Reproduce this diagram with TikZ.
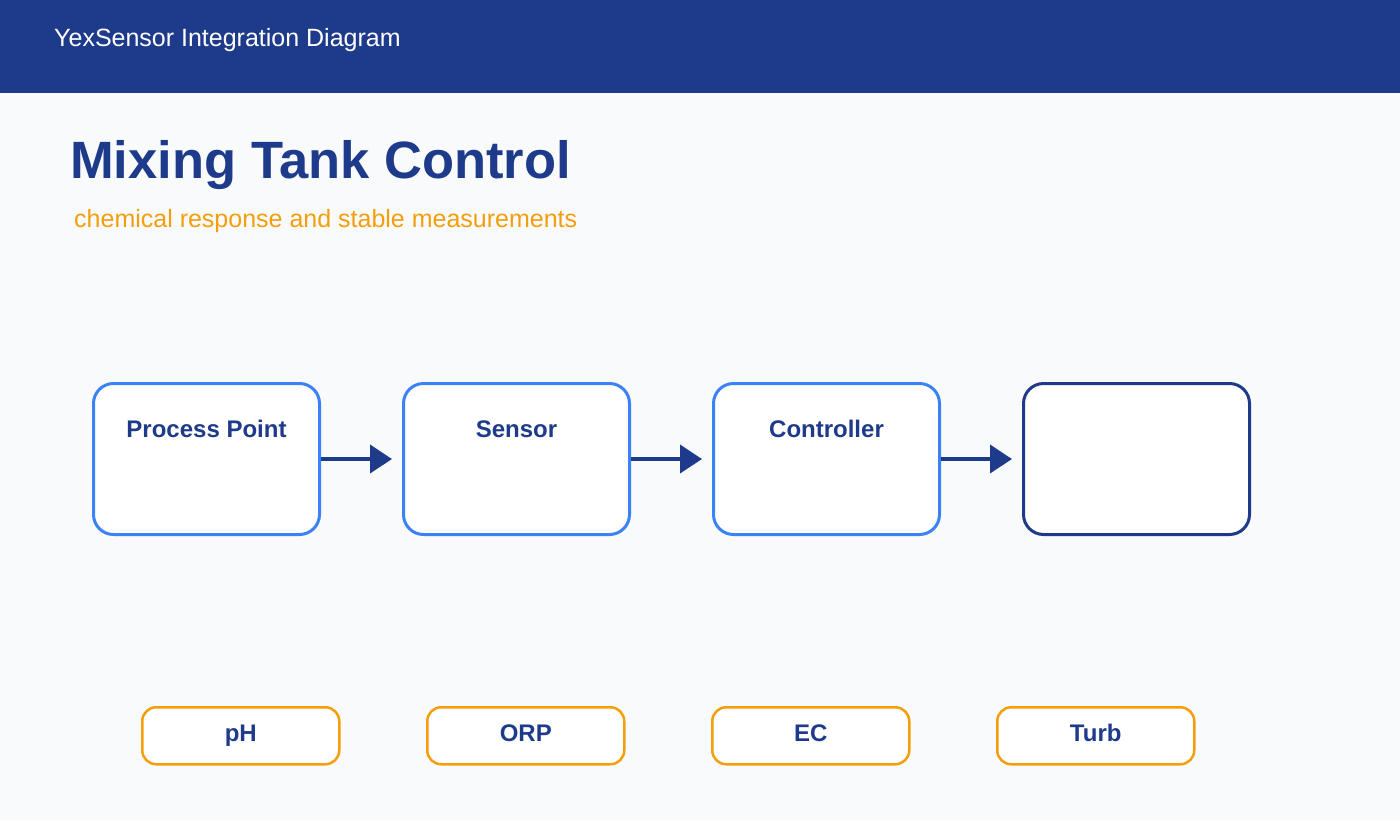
\documentclass[tikz,border=0pt]{standalone}
\usepackage{fontspec}
\setmainfont{Liberation Sans}
\usetikzlibrary{arrows.meta}
\definecolor{navy}{HTML}{1E3A8A}
\definecolor{bluec}{HTML}{3B82F6}
\definecolor{orng}{HTML}{F59E0B}
\definecolor{bg}{HTML}{F8FAFC}
\begin{document}
\begin{tikzpicture}[x=1pt,y=-1pt,
  box/.style={draw=bluec,line width=3pt,fill=white,rounded corners=20pt,minimum width=226pt,minimum height=151pt,anchor=north west},
  lbl/.style={font=\fontsize{24}{28}\selectfont\bfseries,text=navy},
  tag/.style={draw=orng,line width=2.5pt,fill=white,rounded corners=14pt,minimum width=197pt,minimum height=57pt,anchor=north west,font=\fontsize{24}{28}\selectfont\bfseries,text=navy,text height=17pt,text depth=5pt},
  arr/.style={navy,line width=4pt,-{Triangle[length=22pt,width=28pt]}}]
\useasboundingbox (0,0) rectangle (1400,820);
\fill[bg] (0,0) rectangle (1400,820);
\fill[navy] (0,0) rectangle (1400,93);
\node[anchor=west,text=white,font=\fontsize{25}{29}\selectfont,inner sep=0] (hdr) at (54,40) {YexSensor Integration Diagram};
\node[anchor=base west,text=navy,font=\fontsize{52.5}{60}\selectfont\bfseries,inner sep=0] (title) at (70,178) {Mixing Tank Control};
\node[anchor=base west,text=orng,font=\fontsize{25}{29}\selectfont,inner sep=0] (sub) at (74,227) {chemical response and stable measurements};
\node[box] (b1) at (92,382) {};
\node[box] (b2) at (402,382) {};
\node[box] (b3) at (712,382) {};
\node[box,draw=navy] (b4) at (1022,382) {};
\node[lbl] at ([yshift=-47pt]b1.north) {Process Point};
\node[lbl] at ([yshift=-47pt]b2.north) {Sensor};
\node[lbl] at ([yshift=-47pt]b3.north) {Controller};
\draw[arr] (b1.east) -- ([xshift=-10pt]b2.west);
\draw[arr] (b2.east) -- ([xshift=-10pt]b3.west);
\draw[arr] (b3.east) -- ([xshift=-10pt]b4.west);
\node[tag] (t1) at (141,706) {pH};
\node[tag] (t2) at (426,706) {ORP};
\node[tag] (t3) at (711,706) {EC};
\node[tag] (t4) at (996,706) {Turb};
\end{tikzpicture}
\end{document}
